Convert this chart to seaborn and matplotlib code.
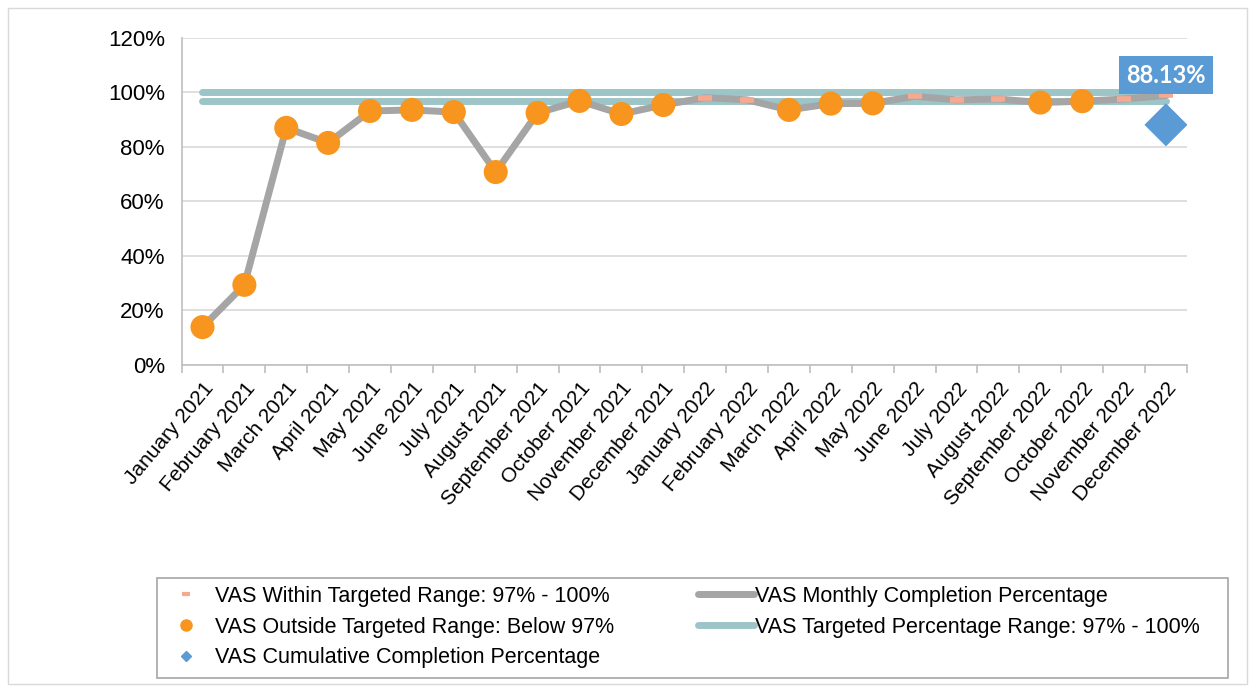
import numpy as np
import pandas as pd
import matplotlib
matplotlib.use("Agg")
import matplotlib.pyplot as plt
import seaborn as sns
from matplotlib.lines import Line2D
from matplotlib.patches import Rectangle

# Data
months = ["January 2021", "February 2021", "March 2021", "April 2021", "May 2021",
          "June 2021", "July 2021", "August 2021", "September 2021", "October 2021",
          "November 2021", "December 2021", "January 2022", "February 2022",
          "March 2022", "April 2022", "May 2022", "June 2022", "July 2022",
          "August 2022", "September 2022", "October 2022", "November 2022",
          "December 2022"]
monthly_pct = [13.9, 29.4, 87.0, 81.5, 93.2, 93.6, 92.8, 70.8, 92.5, 96.9, 92.1, 95.4,
               98.1, 97.3, 93.6, 95.9, 96.0, 98.6, 97.3, 97.6, 96.3, 96.8, 97.6, 98.9]
target_low = 97
target_high = 100
cumulative_pct = 88.13

df = pd.DataFrame({"month": months, "pct": monthly_pct})
df["x"] = np.arange(len(df))
df["within"] = df["pct"] >= target_low

sns.set_theme(style="white")
plt.rcParams["font.family"] = ["Liberation Sans", "DejaVu Sans"]
plt.rcParams["text.color"] = "black"

fig = plt.figure(figsize=(12.52, 6.88), dpi=100)
ax = fig.add_axes([0.145, 0.4695, 0.803, 0.4753])

grey = "#A5A5A5"
teal = "#9DC5C8"
orange = "#F7951F"
salmon = "#F6A98E"
blue = "#5B9BD5"

ax.set_ylim(0, 120)
ax.set_xlim(-0.5, len(df) - 0.5)
ax.set_yticks(np.arange(0, 121, 20))
ax.yaxis.grid(True, color="#D9D9D9", linewidth=1.2)
ax.set_axisbelow(True)

# target range lines
for val in [target_high, target_low]:
    ax.plot([0, len(df) - 1], [val, val], color=teal, linewidth=5,
            solid_capstyle="round", zorder=2)

sns.lineplot(data=df, x="x", y="pct", color=grey, linewidth=5, ax=ax, zorder=3)
sns.scatterplot(data=df[~df["within"]], x="x", y="pct", color=orange, s=300,
                edgecolor="none", ax=ax, zorder=4)
sns.scatterplot(data=df[df["within"]], x="x", y="pct", color=salmon, marker="_",
                s=90, linewidth=4, ax=ax, zorder=4)
ax.scatter([len(df) - 1], [cumulative_pct], marker="D", s=480, color=blue,
           edgecolor="none", zorder=5)
ax.text(len(df) - 1, 106.4, f"{cumulative_pct:.2f}%", color="white",
        fontsize=17, fontweight="bold", family=["Lato", "DejaVu Sans"],
        ha="center", va="center", zorder=6,
        bbox=dict(boxstyle="square,pad=0.3", facecolor=blue, edgecolor="none"))

ax.yaxis.set_major_formatter(matplotlib.ticker.FuncFormatter(lambda v, p: f"{v:.0f}%"))
ax.set_xticks(df["x"])
ax.set_xticklabels(months, rotation=50, ha="right", rotation_mode="anchor")
ax.set_xticks(np.arange(-0.5, len(df), 1), minor=True)
ax.tick_params(axis="x", which="major", length=0, labelsize=15, pad=10,
               labelcolor="black")
ax.tick_params(axis="x", which="minor", length=6, color="#BFBFBF", width=1.2,
               bottom=True)
ax.tick_params(axis="y", labelsize=16, length=0, pad=12, labelcolor="black")
ax.set_xlabel("")
ax.set_ylabel("")
for side in ["top", "right"]:
    ax.spines[side].set_visible(False)
for side in ["left", "bottom"]:
    ax.spines[side].set_color("#BFBFBF")
    ax.spines[side].set_linewidth(1.2)

handles = [
    Line2D([], [], linestyle="none", marker="_", color=salmon, markersize=6, markeredgewidth=3),
    Line2D([], [], linestyle="none", marker="o", color=orange, markersize=8),
    Line2D([], [], linestyle="none", marker="D", color=blue, markersize=5.5),
    Line2D([], [], color=grey, linewidth=5),
    Line2D([], [], color=teal, linewidth=5),
]
labels = ["VAS Within Targeted Range: 97% - 100%",
          "VAS Outside Targeted Range: Below 97%",
          "VAS Cumulative Completion Percentage",
          "VAS Monthly Completion Percentage",
          "VAS Targeted Percentage Range: 97% - 100%"]
leg = fig.legend(handles, labels, ncol=2, loc="center left",
                 bbox_to_anchor=(156 / 1252, 1 - 627 / 688),
                 fontsize=15.5, frameon=False, handlelength=2.6,
                 handletextpad=0.05, labelspacing=0.45, borderpad=0.1,
                 columnspacing=3.9, borderaxespad=0)

# legend box
fig.patches.append(Rectangle((157 / 1252, 1 - 678 / 688), 1071 / 1252, 100 / 688,
                             transform=fig.transFigure, fill=False,
                             edgecolor="#A6A6A6", linewidth=1.2))
# chart border
fig.patches.append(Rectangle((0.006, 0.006), 0.99, 0.982, transform=fig.transFigure,
                             fill=False, edgecolor="#D9D9D9", linewidth=1))

fig.savefig("out.png", dpi=100)
